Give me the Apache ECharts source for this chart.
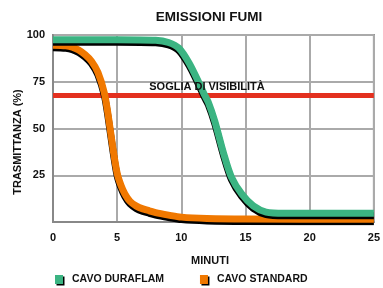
<!DOCTYPE html>
<html>
<head>
<meta charset="utf-8">
<script src="https://cdn.jsdelivr.net/npm/echarts@6/dist/echarts.min.js"></script>
<style>
  html, body { margin: 0; padding: 0; background: #fff; }
  #chart { width: 383px; height: 288px; }
</style>
</head>
<body>
<div id="chart"></div>
<script>
// minutes / transmittance (%)
var standardX = [0, 1, 1.5, 2, 2.5, 3, 3.5, 4, 4.3, 4.7, 5, 5.3, 5.6, 6, 6.5, 7, 7.5, 8, 9, 10, 12, 15, 25];
var standardY = [94.5, 94.2, 93.5, 92, 89.5, 86, 80, 69, 57, 38, 26, 19.5, 15, 11, 8.5, 7, 6, 5, 3.7, 2.6, 1.9, 1.6, 1.5];

var duraflamX = [0, 5, 8, 9, 9.8, 10.6, 11.4, 11.8, 12.1, 12.6, 13.3, 13.9, 14.7, 15.6, 16.6, 18, 25];
var duraflamY = [97.5, 97.5, 97.2, 96, 93, 85, 74, 68, 64, 54, 36.5, 24, 15, 8.6, 5.3, 4.7, 4.7];

var sogliaX = [0, 25];
var sogliaY = [67.6, 67.6];

var xTicks = [0, 5, 10, 15, 20, 25];
var yTicks = [25, 50, 75, 100];

var FONT = 'Liberation Sans';
var INK = '#111';

function pairs(xs, ys) {
    var out = [];
    for (var i = 0; i < xs.length; i++) {
        out.push([xs[i], ys[i]]);
    }
    return out;
}

var chart = echarts.init(document.getElementById('chart'));

chart.setOption({
    animation: false,
    backgroundColor: '#fff',
    textStyle: { fontFamily: FONT },
    grid: {
        left: 53, right: 9, top: 35, bottom: 66,
        show: true,
        borderColor: '#888',
        borderWidth: 2
    },
    xAxis: {
        type: 'value',
        min: 0, max: 25, interval: 5,
        axisLine: { lineStyle: { color: '#888', width: 2 } },
        axisTick: { show: false },
        splitLine: { lineStyle: { color: '#aaa', width: 2 } },
        axisLabel: {
            margin: 10,
            color: INK,
            fontWeight: 'bold',
            fontSize: 11,
            formatter: function (v) {
                return xTicks.indexOf(v) >= 0 ? String(v) : '';
            }
        }
    },
    yAxis: {
        type: 'value',
        min: 0, max: 100, interval: 25,
        axisLine: { show: true, lineStyle: { color: '#888', width: 2 } },
        axisTick: { show: false },
        splitLine: { lineStyle: { color: '#aaa', width: 2 } },
        axisLabel: {
            margin: 8,
            color: INK,
            fontWeight: 'bold',
            fontSize: 11,
            formatter: function (v) {
                return yTicks.indexOf(v) >= 0 ? String(v) : '';
            }
        }
    },
    legend: {
        left: 50,
        top: 269,
        itemWidth: 8,
        itemHeight: 9,
        itemGap: 36,
        icon: 'rect',
        data: ['CAVO DURAFLAM', 'CAVO STANDARD'],
        itemStyle: {
            shadowColor: '#000',
            shadowBlur: 0,
            shadowOffsetX: 1.5,
            shadowOffsetY: 1.5
        },
        textStyle: {
            color: INK,
            fontWeight: 'bold',
            fontSize: 10.5,
            fontFamily: FONT,
            padding: [0, 0, 0, 4]
        }
    },
    graphic: [
        {
            type: 'text', x: 209, y: 17,
            style: {
                text: 'EMISSIONI FUMI', fill: INK,
                font: 'bold 13.5px ' + FONT,
                align: 'center', verticalAlign: 'middle'
            }
        },
        {
            type: 'text', x: 18, y: 142, rotation: Math.PI / 2,
            style: {
                text: 'TRASMITTANZA (%)', fill: INK,
                font: 'bold 11px ' + FONT,
                align: 'center', verticalAlign: 'middle'
            }
        },
        {
            type: 'text', x: 210, y: 261,
            style: {
                text: 'MINUTI', fill: INK,
                font: 'bold 11px ' + FONT,
                align: 'center', verticalAlign: 'middle'
            }
        },
        {
            type: 'text', x: 207, y: 87, z: 50,
            style: {
                text: 'SOGLIA DI VISIBILITÀ', fill: INK,
                font: 'bold 11px ' + FONT,
                align: 'center', verticalAlign: 'middle'
            }
        }
    ],
    series: [
        {
            name: 'soglia',
            type: 'line',
            symbol: 'none',
            silent: true,
            z: 2,
            lineStyle: { color: '#e3301f', width: 5 },
            data: pairs(sogliaX, sogliaY)
        },
        {
            name: 'CAVO STANDARD',
            type: 'line',
            symbol: 'none',
            smooth: 0.3,
            z: 3,
            itemStyle: { color: '#f07800' },
            lineStyle: {
                color: '#f07800', width: 7, cap: 'butt', join: 'round',
                shadowColor: '#000', shadowBlur: 0, shadowOffsetY: 2.5
            },
            data: pairs(standardX, standardY)
        },
        {
            name: 'CAVO DURAFLAM',
            type: 'line',
            symbol: 'none',
            smooth: 0.3,
            z: 4,
            itemStyle: { color: '#3bb482' },
            lineStyle: {
                color: '#3bb482', width: 7, cap: 'butt', join: 'round',
                shadowColor: '#000', shadowBlur: 0, shadowOffsetY: 2.5
            },
            data: pairs(duraflamX, duraflamY)
        }
    ]
});
</script>
</body>
</html>
